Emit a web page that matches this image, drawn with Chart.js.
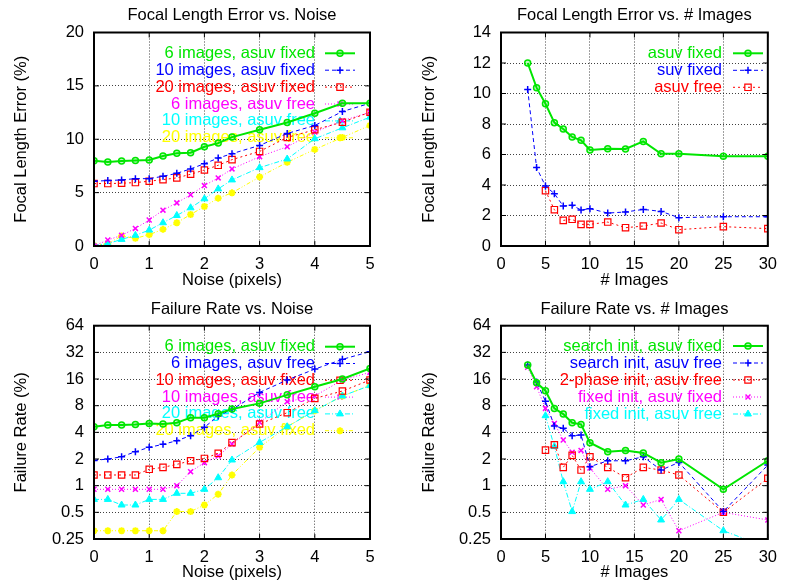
<!DOCTYPE html>
<html>
<head>
<meta charset="utf-8">
<script src="https://cdn.jsdelivr.net/npm/chart.js@4.4.1/dist/chart.umd.min.js"></script>
<style>
  html, body { margin: 0; padding: 0; background: #fff; }
  #wrap { position: relative; width: 786px; height: 580px; overflow: hidden; }
  #wrap canvas { position: absolute; }
</style>
</head>
<body>
<div id="wrap">
  <canvas id="focalNoise" width="393" height="290" style="left:0;top:0"></canvas>
  <canvas id="focalImages" width="393" height="290" style="left:393px;top:0"></canvas>
  <canvas id="failNoise" width="393" height="290" style="left:0;top:290px"></canvas>
  <canvas id="failImages" width="393" height="290" style="left:393px;top:290px"></canvas>
</div>
<script>
// x 값
const noiseLevels = [0, 0.25, 0.5, 0.75, 1, 1.25, 1.5, 1.75, 2, 2.25, 2.5, 3, 3.5, 4, 4.5, 5];
const imageCounts = [3, 4, 5, 6, 7, 8, 9, 10, 12, 14, 16, 18, 20, 25, 30];
const failTicks = [0.25, 0.5, 1, 2, 4, 8, 16, 32, 64];

// Focal Length Error vs. Noise
const focalNoiseLabels = ['6 images, asuv fixed', '10 images, asuv fixed', '20 images, asuv fixed',
    '6 images, asuv free', '10 images, asuv free', '20 images, asuv free'];
const focalNoise6Fixed = [7.99, 7.87, 7.96, 8.0, 8.06, 8.43, 8.68, 8.74, 9.3, 9.64, 10.2, 10.89, 11.57, 12.44, 13.37, 13.37];
const focalNoise10Fixed = [6.07, 6.13, 6.19, 6.31, 6.31, 6.53, 6.81, 7.22, 7.71, 8.24, 8.65, 9.42, 10.54, 11.29, 12.6, 13.37];
const focalNoise20Fixed = [5.85, 5.85, 5.88, 5.94, 6.07, 6.22, 6.38, 6.72, 7.12, 7.56, 8.09, 8.86, 10.17, 10.89, 11.6, 12.53];
const focalNoise6Free = [0, 0.56, 1.0, 1.65, 2.43, 3.36, 4.04, 4.79, 5.66, 6.38, 7.22, 8.37, 9.3, 10.67, 11.73, 12.53];
const focalNoise10Free = [0.06, 0.22, 0.62, 1.0, 1.49, 2.18, 2.86, 3.58, 4.42, 5.35, 6.19, 7.34, 8.15, 10.05, 11.07, 12.07];
const focalNoise20Free = [0.06, 0.22, 0.93, 0.72, 1.06, 1.56, 2.18, 2.95, 3.7, 4.48, 4.98, 6.47, 7.84, 9.05, 10.17, 11.29];

// Focal Length Error vs. # Images
const focalImagesLabels = ['asuv fixed', 'suv fixed', 'asuv free'];
const focalImgAsuvFixed = [12.0, 10.38, 9.33, 8.09, 7.67, 7.15, 6.93, 6.3, 6.38, 6.36, 6.86, 6.05, 6.05, 5.88, 5.88];
const focalImgSuvFixed = [10.27, 5.14, 3.93, 3.43, 2.62, 2.67, 2.36, 2.45, 2.16, 2.23, 2.4, 2.27, 1.86, 1.92, 1.92];
const focalImgAsuvFree = [null, null, 3.63, 2.38, 1.68, 1.75, 1.42, 1.42, 1.57, 1.2, 1.31, 1.51, 1.07, 1.27, 1.14];

// Failure Rate vs. Noise
const failNoiseLabels = ['6 images, asuv fixed', '6 images, asuv free', '10 images, asuv fixed',
    '10 images, asuv free', '20 images, asuv free', '20 images, asuv fixed'];
const failNoise6Fixed = [4.63, 4.84, 4.84, 4.92, 5.05, 4.97, 5.14, 5.86, 5.86, 6.5, 7.34, 8.5, 10.6, 13.1, 16, 21.1];
const failNoise6Free = [1.93, 2.0, 2.12, 2.42, 2.71, 2.93, 3.22, 3.67, 4.56, 6.12, 7.27, 11.3, 15.6, 20.7, 26.7, 32.6];
const failNoise10Fixed = [1.32, 1.32, 1.32, 1.32, 1.53, 1.61, 1.74, 1.91, 2.03, 2.32, 3.06, 4.97, 6.67, 9.68, 11.7, 15.6];
const failNoise10Free = [0.91, 0.91, 0.91, 0.91, 0.91, 0.91, 1.0, 1.44, 1.82, 2.16, 2.95, 5.19, 8.88, 10.3, 15.6, 19.0];
const failNoise20Free = [0.7, 0.7, 0.605, 0.605, 0.7, 0.7, 0.82, 0.82, 0.91, 1.23, 1.95, 3.08, 4.63, 7.03, 10.3, 13.5];
const failNoise20Fixed = [0.31, 0.31, 0.31, 0.31, 0.31, 0.31, 0.51, 0.51, 0.605, 0.8, 1.32, 2.71, 4.63, 7.03, 10.3, 13.5];

// Failure Rate vs. # Images
const failImagesLabels = ['search init, asuv fixed', 'search init, asuv free', '2-phase init, asuv free',
    'fixed init, asuv fixed', 'fixed init, asuv free'];
const failImgSearchFixed = [23.0, 14.5, 11.8, 7.46, 6.44, 5.14, 4.92, 3.06, 2.42, 2.5, 2.34, 1.82, 2.0, 0.91, 1.91];
const failImgSearchFree = [23.0, 14.8, 9.0, 4.72, 4.44, 3.67, 3.73, 1.64, 1.91, 1.91, 2.12, 1.5, 1.83, 0.51, 1.71];
const failImg2Phase = [null, null, 2.52, 2.9, 1.61, 2.2, 1.5, 2.12, 1.61, 1.23, 1.61, 1.5, 1.32, 0.5, 1.21];
const failImgFixedFixed = [21.7, 13.1, 7.46, 5.05, 3.28, 2.38, 2.5, 1.58, 0.91, 1.0, 0.605, 0.7, 0.31, 0.5, 0.41];
const failImgFixedFree = [null, null, 6.17, 2.76, 1.11, 0.51, 1.11, 0.91, 1.11, 0.605, 0.7, 0.41, 0.7, 0.31, 0.2];

const fontFamily = '"Liberation Sans", Arial, Helvetica, sans-serif';
const fontSize = 16.5;
const gridColor = 'rgba(0,0,0,0.75)';

// gnuplot 기본 선 스타일 순서
const seriesStyles = [
    { color: '#00e600', width: 2, dash: [], point: 'circle', radius: 3, fill: 'rgba(0,230,0,0.25)', pointWidth: 1.5 },
    { color: '#0000ff', width: 1, dash: [4, 3], point: 'cross', radius: 3.5, fill: '#0000ff', pointWidth: 1.5 },
    { color: '#ff0000', width: 1, dash: [2, 3], point: 'rect', radius: 4.5, fill: 'rgba(0,0,0,0)', pointWidth: 1.2 },
    { color: '#ff00ff', width: 1, dash: [1, 2], point: 'crossRot', radius: 3.5, fill: '#ff00ff', pointWidth: 1.5 },
    { color: '#00ffff', width: 1, dash: [5, 2, 1, 2], point: 'triangle', radius: 4, fill: '#00ffff', pointWidth: 1 },
    { color: '#ffff00', width: 1, dash: [4, 2, 1, 2, 1, 2], point: 'star', radius: 3.5, fill: '#ffff00', pointWidth: 2 }
];

function buildDatasets(xs, labels, seriesList) {
    return seriesList.map((values, i) => {
        const st = seriesStyles[i];
        const points = [];
        values.forEach((v, k) => {
            if (v !== null) {
                points.push({ x: xs[k], y: v });
            }
        });
        return {
            label: labels[i],
            data: points,
            borderColor: st.color,
            borderWidth: st.width,
            borderDash: st.dash,
            pointStyle: st.point,
            pointRadius: st.radius,
            pointBorderWidth: st.pointWidth,
            pointBorderColor: st.color,
            pointBackgroundColor: st.fill,
            tension: 0,
            fill: false
        };
    });
}

// 오른쪽 정렬 텍스트 + 샘플선 (gnuplot key 모양)
const gnuplotKey = {
    id: 'gnuplotKey',
    beforeDatasetsDraw(chart, args, opts) {
        const { ctx } = chart;
        ctx.save();
        ctx.font = `${fontSize}px ${fontFamily}`;
        ctx.textAlign = 'right';
        ctx.textBaseline = 'middle';
        chart.data.datasets.forEach((ds, i) => {
            const y = opts.top + i * opts.step;
            ctx.fillStyle = ds.borderColor;
            ctx.fillText(ds.label, opts.textRight, y);

            ctx.strokeStyle = ds.borderColor;
            ctx.lineWidth = ds.borderWidth;
            ctx.setLineDash(ds.borderDash);
            ctx.beginPath();
            ctx.moveTo(opts.lineLeft, y);
            ctx.lineTo(opts.lineLeft + 30, y);
            ctx.stroke();

            ctx.setLineDash([]);
            ctx.lineWidth = ds.pointBorderWidth;
            ctx.fillStyle = ds.pointBackgroundColor;
            Chart.helpers.drawPoint(ctx, {
                pointStyle: ds.pointStyle,
                radius: ds.pointRadius,
                rotation: 0,
                borderWidth: ds.pointBorderWidth
            }, opts.lineLeft + 15, y);
        });
        ctx.restore();
    }
};

// 테두리 + 안쪽 눈금
const plotFrame = {
    id: 'plotFrame',
    afterDatasetsDraw(chart) {
        const { ctx, chartArea, scales } = chart;
        const { left, right, top, bottom } = chartArea;
        ctx.save();
        ctx.strokeStyle = '#000';
        ctx.lineWidth = 1;
        ctx.setLineDash([]);
        ctx.beginPath();
        scales.x.ticks.forEach((t) => {
            const px = scales.x.getPixelForValue(t.value);
            ctx.moveTo(px, bottom);
            ctx.lineTo(px, bottom - 5);
            ctx.moveTo(px, top);
            ctx.lineTo(px, top + 5);
        });
        scales.y.ticks.forEach((t) => {
            const py = scales.y.getPixelForValue(t.value);
            ctx.moveTo(left, py);
            ctx.lineTo(left + 5, py);
            ctx.moveTo(right, py);
            ctx.lineTo(right - 5, py);
        });
        ctx.stroke();
        ctx.lineWidth = 2;
        ctx.strokeRect(left, top, right - left, bottom - top);
        ctx.restore();
    }
};

function makeChart(id, cfg) {
    const font = { family: fontFamily, size: fontSize, weight: 'normal' };
    const yScale = {
        type: cfg.logY ? 'logarithmic' : 'linear',
        min: cfg.yMin,
        max: cfg.yMax,
        ticks: {
            stepSize: cfg.yStep,
            color: '#000',
            font,
            padding: 10,
            autoSkip: false,
            callback(value) {
                return String(value);
            }
        },
        grid: { color: gridColor, drawTicks: false, lineWidth: 1 },
        border: { display: false, dash: [1, 2] },
        title: { display: true, text: cfg.yTitle, color: '#000', font, padding: { top: cfg.yTitlePad, bottom: 0 } },
        afterFit(scale) {
            scale.width = cfg.yWidth;
        }
    };
    if (cfg.logY) {
        yScale.afterBuildTicks = (scale) => {
            scale.ticks = failTicks.map((v) => ({ value: v }));
        };
    }

    return new Chart(document.getElementById(id), {
        type: 'line',
        plugins: [gnuplotKey, plotFrame],
        data: { datasets: cfg.datasets },
        options: {
            responsive: false,
            maintainAspectRatio: false,
            animation: false,
            layout: { padding: { left: 0, right: cfg.padRight, top: 0, bottom: 0 } },
            plugins: {
                legend: { display: false },
                tooltip: { enabled: false },
                title: {
                    display: true,
                    text: cfg.title,
                    color: '#000',
                    font,
                    fullSize: false,
                    padding: cfg.titlePad
                },
                gnuplotKey: cfg.key
            },
            scales: {
                x: {
                    type: 'linear',
                    min: cfg.xMin,
                    max: cfg.xMax,
                    ticks: { stepSize: cfg.xStep, color: '#000', font, padding: 9, maxRotation: 0, autoSkip: false },
                    grid: { color: gridColor, drawTicks: false, lineWidth: 1 },
                    border: { display: false, dash: [1, 2] },
                    title: {
                        display: true,
                        text: cfg.xTitle,
                        color: '#000',
                        font: { family: fontFamily, size: fontSize, lineHeight: cfg.xTitleLineHeight },
                        padding: { top: 0, bottom: cfg.xTitlePadBottom }
                    },
                    afterFit(scale) {
                        scale.height = cfg.xHeight;
                    }
                },
                y: yScale
            }
        }
    });
}

makeChart('focalNoise', {
    title: 'Focal Length Error vs. Noise',
    xTitle: 'Noise (pixels)',
    yTitle: 'Focal Length Error (%)',
    xMin: 0, xMax: 5, xStep: 1,
    yMin: 0, yMax: 20, yStep: 5,
    yWidth: 94, yTitlePad: 12, padRight: 23, xHeight: 44,
    xTitleLineHeight: 1.2, xTitlePadBottom: 0,
    titlePad: { top: 6, bottom: 6.7 },
    key: { textRight: 315, top: 53.3, step: 16.9, lineLeft: 325 },
    datasets: buildDatasets(noiseLevels, focalNoiseLabels,
        [focalNoise6Fixed, focalNoise10Fixed, focalNoise20Fixed, focalNoise6Free, focalNoise10Free, focalNoise20Free])
});

makeChart('focalImages', {
    title: 'Focal Length Error vs. # Images',
    xTitle: '# Images',
    yTitle: 'Focal Length Error (%)',
    xMin: 0, xMax: 30, xStep: 5,
    yMin: 0, yMax: 14, yStep: 2,
    yWidth: 108, yTitlePad: 27, padRight: 10, xHeight: 44,
    xTitleLineHeight: 1.2, xTitlePadBottom: 0,
    titlePad: { top: 6, bottom: 6.7 },
    key: { textRight: 329, top: 53.3, step: 17, lineLeft: 340 },
    datasets: buildDatasets(imageCounts, focalImagesLabels,
        [focalImgAsuvFixed, focalImgSuvFixed, focalImgAsuvFree])
});

makeChart('failNoise', {
    title: 'Failure Rate vs. Noise',
    xTitle: 'Noise (pixels)',
    yTitle: 'Failure Rate (%)',
    logY: true,
    xMin: 0, xMax: 5, xStep: 1,
    yMin: 0.25, yMax: 64,
    yWidth: 94, yTitlePad: 12, padRight: 23, xHeight: 41,
    xTitleLineHeight: 1, xTitlePadBottom: -1,
    titlePad: { top: 10, bottom: 5.9 },
    key: { textRight: 315, top: 56.7, step: 16.8, lineLeft: 325 },
    datasets: buildDatasets(noiseLevels, failNoiseLabels,
        [failNoise6Fixed, failNoise6Free, failNoise10Fixed, failNoise10Free, failNoise20Free, failNoise20Fixed])
});

makeChart('failImages', {
    title: 'Failure Rate vs. # Images',
    xTitle: '# Images',
    yTitle: 'Failure Rate (%)',
    logY: true,
    xMin: 0, xMax: 30, xStep: 5,
    yMin: 0.25, yMax: 64,
    yWidth: 108, yTitlePad: 27, padRight: 10, xHeight: 41,
    xTitleLineHeight: 1, xTitlePadBottom: -1,
    titlePad: { top: 10, bottom: 5.9 },
    key: { textRight: 329, top: 56, step: 17, lineLeft: 340 },
    datasets: buildDatasets(imageCounts, failImagesLabels,
        [failImgSearchFixed, failImgSearchFree, failImg2Phase, failImgFixedFixed, failImgFixedFree])
});
</script>
</body>
</html>
